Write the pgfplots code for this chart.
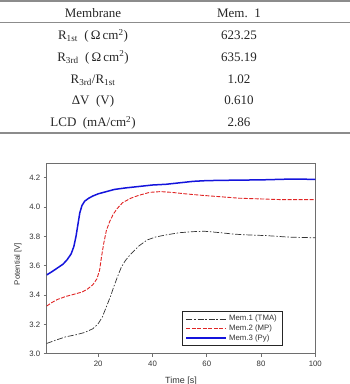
\documentclass[border=0pt]{standalone}
\usepackage{fontspec}
\setmainfont{Liberation Serif}
\newfontfamily\chartfont{Liberation Sans}
\usepackage{pgfplots}
\pgfplotsset{compat=1.18}

\definecolor{rulegray}{HTML}{8C8C8C}
\definecolor{axisgray}{HTML}{6E6E6E}
\definecolor{textgray}{HTML}{333333}
\definecolor{tmaline}{HTML}{333333}
\definecolor{mpred}{HTML}{E02424}
\definecolor{pyblue}{HTML}{1414DC}

\begin{document}
\begin{tikzpicture}
\useasboundingbox (0,0) rectangle (350bp,-384bp);

% ---- summary table ----
\draw[rulegray, line width=2bp] (0,-1bp) -- (350bp,-1bp);
\draw[rulegray, line width=1.4bp] (0,-22.5bp) -- (350bp,-22.5bp);
\draw[rulegray, line width=1.6bp] (0,-133bp) -- (350bp,-133bp);
\begin{scope}[every node/.style={anchor=base, inner sep=0pt, font=\fontsize{13bp}{15bp}\selectfont, text=black!85}]
\node at (93bp,-17.2bp)  {Membrane};
\node at (239bp,-17.2bp) {Mem.~~1};
\node at (93bp,-39.5bp)  {R\textsubscript{1st}~~(\,Ω\,cm\textsuperscript{2})};
\node at (239bp,-39.5bp) {623.25};
\node at (93bp,-61.2bp)  {R\textsubscript{3rd}~~(\,Ω\,cm\textsuperscript{2})};
\node at (239bp,-61.2bp) {635.19};
\node at (93bp,-83.5bp)  {R\textsubscript{3rd}/R\textsubscript{1st}};
\node at (239bp,-83.5bp) {1.02};
\node at (93bp,-104.5bp) {ΔV~~(V)};
\node at (239bp,-104.5bp) {0.610};
\node at (93bp,-126.8bp) {LCD~~(mA/cm\textsuperscript{2})};
\node at (239bp,-126.8bp) {2.86};
\end{scope}

% ---- chronopotentiometry curves ----
\begin{axis}[
  at={(46.7bp,-353.7bp)}, anchor=south west,
  scale only axis, width=268.6bp, height=190.7bp,
  xmin=1, xmax=100, ymin=3.0, ymax=4.3,
  xtick={20,40,60,80,100},
  ytick={3.0,3.2,3.4,3.6,3.8,4.0,4.2},
  xtick pos=left, ytick pos=left,
  tick align=outside, major tick length=3bp,
  axis line style={axisgray, line width=0.8bp},
  every tick/.style={axisgray, line width=0.7bp},
  /pgf/number format/assume math mode=true,
  ticklabel style={font=\chartfont\fontsize{7.8bp}{9bp}\selectfont, text=textgray},
  yticklabel style={/pgf/number format/.cd, fixed, fixed zerofill, precision=1},
  xticklabel style={yshift=-1bp},
  xlabel={Time [s]},
  ylabel={Potential [V]},
  xlabel style={at={(axis description cs:0.5,-0.142)}, anchor=center,
    font=\chartfont\fontsize{9bp}{10bp}\selectfont, text=textgray},
  ylabel style={at={(axis description cs:-0.107,0.47)}, anchor=center,
    font=\chartfont\fontsize{7.8bp}{9bp}\selectfont, text=textgray},
  legend cell align=left,
  legend image code/.code={\draw[#1] (0bp,0bp) -- (40bp,0bp);},
  legend style={at={(0.503,0.040)}, anchor=south west,
    draw=black!85, line width=0.7bp,
    font=\chartfont\fontsize{7.8bp}{8bp}\selectfont, text=textgray,
    inner xsep=3.5bp, inner ysep=2bp, row sep=-1.5bp},
]
\addplot[tmaline, line width=0.7bp,
  dash pattern=on 6bp off 1.8bp on 1.5bp off 1.8bp] coordinates {
  (1,3.07) (4,3.09) (8,3.115) (12,3.13) (15,3.145) (18,3.17) (20,3.205)
  (21.5,3.25) (23,3.32) (24.5,3.39) (25.5,3.445) (27,3.52) (28.5,3.59)
  (30,3.635) (32,3.68) (35,3.735) (38,3.775) (41,3.795) (45,3.81)
  (50,3.825) (55,3.832) (59,3.835) (65,3.825) (70,3.815) (75,3.81)
  (82,3.805) (90,3.795) (100,3.79)};
\addlegendentry{Mem.1 (TMA)}
\addplot[mpred, line width=0.9bp, dash pattern=on 4bp off 1.5bp] coordinates {
  (1,3.325) (3,3.35) (5,3.37) (8,3.39) (11,3.405) (14,3.42) (16,3.44)
  (18,3.47) (19.5,3.51) (20.5,3.57) (21.2,3.66) (22,3.75) (23,3.84)
  (24.2,3.90) (25.5,3.95) (27,3.99) (29,4.03) (32,4.06) (35,4.08)
  (39,4.10) (43,4.105) (47,4.10) (52,4.09) (58,4.08) (65,4.07)
  (72,4.06) (80,4.055) (88,4.05) (100,4.05)};
\addlegendentry{Mem.2 (MP)}
\addplot[pyblue, line width=1.5bp] coordinates {
  (1,3.537) (3,3.56) (5,3.585) (7,3.61) (8.5,3.64) (10,3.68) (11,3.73)
  (11.8,3.80) (12.5,3.88) (13.2,3.96) (14,4.01) (15,4.04) (16.5,4.06)
  (18,4.075) (20,4.09) (23,4.105) (26,4.12) (30,4.13) (35,4.14)
  (40,4.15) (45,4.155) (50,4.165) (55,4.175) (60,4.18) (70,4.183)
  (80,4.185) (90,4.19) (95,4.19) (100,4.188)};
\addlegendentry{Mem.3 (Py)}
\end{axis}
\end{tikzpicture}
\end{document}
